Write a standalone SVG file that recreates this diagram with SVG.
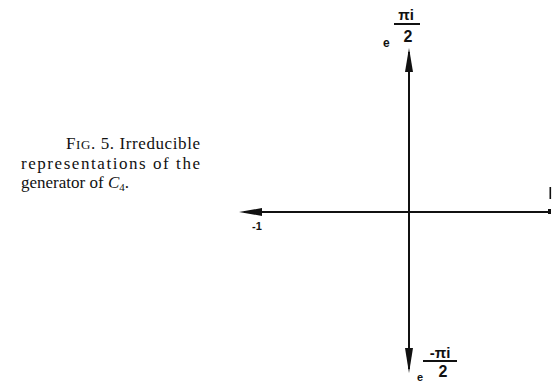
<svg xmlns="http://www.w3.org/2000/svg" width="556" height="383" viewBox="0 0 556 383">
<style>
.cap{font-family:"Liberation Serif",serif;font-size:17px;fill:#111}
.lab{font-family:"Liberation Sans",sans-serif;font-weight:bold;fill:#111}
.ax{stroke:#111;stroke-width:2;fill:none}
.head{fill:#111}
</style>
<rect width="556" height="383" fill="#fff"/>
<g id="caption">
<text class="cap" x="66" y="149" textLength="134" lengthAdjust="spacing">F<tspan font-size="13">IG</tspan>. 5. Irreducible</text>
<text class="cap" x="21" y="168.5" textLength="179" lengthAdjust="spacing">representations of the</text>
<text class="cap" x="21" y="188" textLength="108" lengthAdjust="spacing">generator of <tspan font-style="italic">C</tspan><tspan font-size="11" dy="3">4</tspan><tspan dy="-3">.</tspan></text>
</g>
<g id="connectors">
<path class="ax" d="M244,212 L550,212"/>
<path class="head" d="M239,212 L262,208 L262,216 Z"/>
<path class="ax" d="M409,52 L409,369"/>
<path class="head" d="M409,48 L405,72 L413,72 Z"/>
<path class="head" d="M409,373 L405,348 L413,348 Z"/>
<rect x="548" y="209" width="3" height="5" fill="#111"/>
</g>
<g id="label-top">
<text class="lab" x="383" y="47" font-size="12">e</text>
<text class="lab" x="406" y="20" font-size="15" text-anchor="middle">πi</text>
<line x1="394" y1="24" x2="420" y2="24" stroke="#111" stroke-width="2"/>
<text class="lab" x="408" y="42" font-size="16" text-anchor="middle">2</text>
</g>
<g id="label-bottom">
<text class="lab" x="417" y="381" font-size="11">e</text>
<text class="lab" x="440" y="358" font-size="15" text-anchor="middle">-πi</text>
<line x1="423" y1="361" x2="457" y2="361" stroke="#111" stroke-width="2"/>
<text class="lab" x="443" y="377" font-size="16" text-anchor="middle">2</text>
</g>
<g id="label-left">
<text class="lab" x="252" y="230" font-size="11">-1</text>
</g>
<g id="label-right">
<rect x="549.5" y="187" width="1.6" height="12" fill="#111"/>
</g>
</svg>
